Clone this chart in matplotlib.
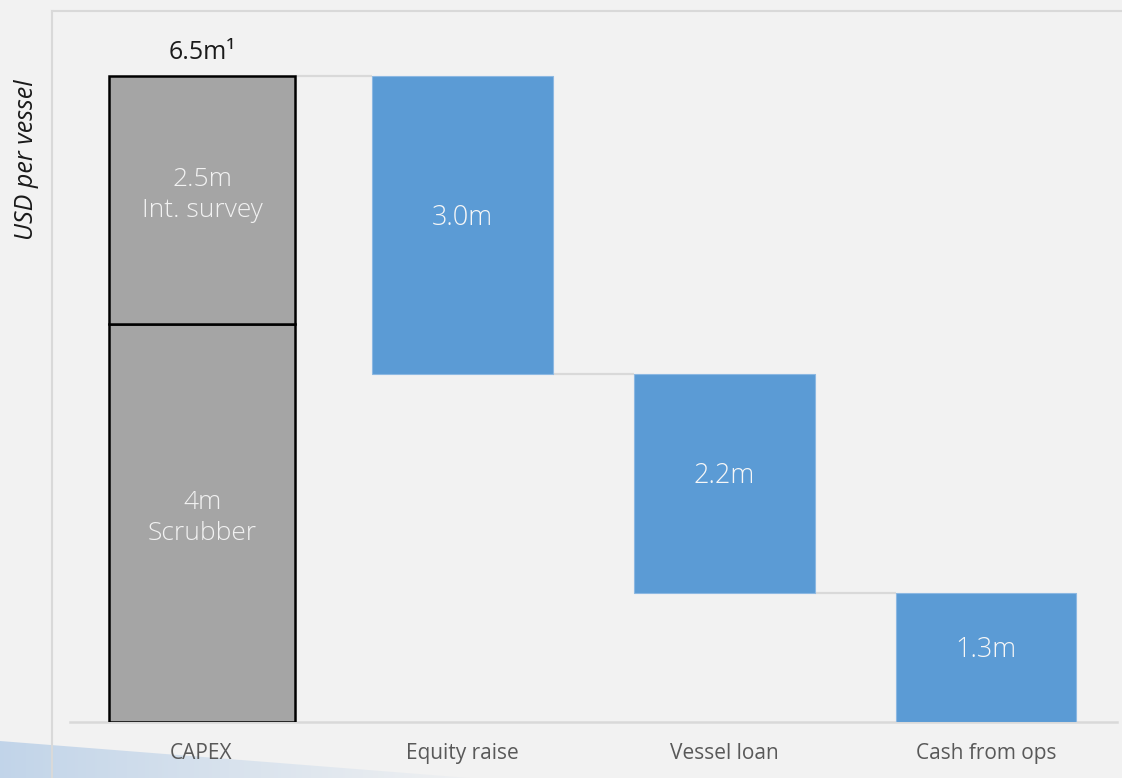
import numpy as np
import matplotlib
matplotlib.use("Agg")
import matplotlib.pyplot as plt
from matplotlib.patches import Polygon
from matplotlib.lines import Line2D

# ---- data -------------------------------------------------------------
categories = ["CAPEX", "Equity raise", "Vessel loan", "Cash from ops"]
capex_parts = [4.0, 2.5]
capex_part_labels = ["4m\nScrubber", "2.5m\nInt. survey"]
capex_total_label = "6.5m\u00b9"
funding_values = [3.0, 2.2, 1.3]
funding_labels = ["3.0m", "2.2m", "1.3m"]
y_label = "USD per vessel"

# ---- style ------------------------------------------------------------
BG = "#f2f2f2"
GREY_BAR = "#a5a5a5"
BLUE = "#5b9bd5"
LINE = "#d9d9d9"
TICK = "#595959"
FONT = ["Open Sans", "DejaVu Sans"]
plt.rcParams["font.family"] = FONT

W, H, DPI = 1122, 778, 100
fig = plt.figure(figsize=(W / DPI, H / DPI), dpi=DPI, facecolor=BG)

# background layer in pixel coordinates (decorative frame + corner wedge)
bg = fig.add_axes([0, 0, 1, 1], zorder=0)
bg.set_xlim(0, W)
bg.set_ylim(H, 0)
bg.axis("off")
bg.set_facecolor(BG)

# soft blue wedge at the lower-left corner, fading to the right
grad = np.linspace(0.9, 0.05, 256)
rgba = np.zeros((1, 256, 4))
rgba[..., 0] = 0.74
rgba[..., 1] = 0.82
rgba[..., 2] = 0.91
rgba[..., 3] = grad
wedge = Polygon([[0, 741], [470, 778], [0, 778]], closed=True,
                facecolor="none", edgecolor="none")
bg.add_patch(wedge)
im = bg.imshow(rgba, extent=[0, 470, 778, 738], aspect="auto",
               interpolation="bilinear")
im.set_clip_path(wedge)

# panel frame: left and top rules
bg.add_line(Line2D([52, 52], [11, H], color=LINE, lw=1.5))
bg.add_line(Line2D([52, W], [11, 11], color=LINE, lw=1.5))

# ---- main chart -------------------------------------------------------
ax_left, ax_right = 70, 1117
ax_bottom, ax_top = 722, 40
ax = fig.add_axes([ax_left / W, (H - ax_bottom) / H,
                   (ax_right - ax_left) / W, (ax_bottom - ax_top) / H],
                  zorder=2)
ax.patch.set_alpha(0)
px_per_unit = 99.46
ax.set_ylim(0, (ax_bottom - ax_top) / px_per_unit)
ax.set_xlim(-0.5, len(categories) - 0.5)

x = np.arange(len(categories))
bar_w = 0.69
capex_w = 0.71

# stacked CAPEX bar
bottom = 0.0
for val, lab in zip(capex_parts, capex_part_labels):
    ax.bar(x[0] + 0.005, val, bottom=bottom, width=capex_w, color=GREY_BAR,
           edgecolor="black", linewidth=1.8, zorder=3)
    ax.text(x[0] + 0.005, bottom + val / 2 + 0.05, lab, ha="center",
            va="center", color="#f2f2f2", fontsize=19, fontweight="light",
            linespacing=1.3, zorder=4)
    bottom += val
capex_total = bottom
ax.annotate(capex_total_label, xy=(x[0] + 0.005, capex_total),
            xytext=(0, 12), textcoords="offset points", ha="center",
            va="baseline", fontsize=18, color="#1a1a1a")

# funding waterfall bars
level = capex_total
prev_right = x[0] + 0.005 + capex_w / 2
for i, (val, lab) in enumerate(zip(funding_values, funding_labels), start=1):
    low = level - val
    ax.bar(x[i], val, bottom=low, width=bar_w, color=BLUE,
           edgecolor="#8cb8e2", linewidth=0.8, zorder=3)
    # connector from previous bar
    ax.plot([prev_right, x[i] - bar_w / 2], [level, level], color=LINE,
            lw=1.6, zorder=2, solid_capstyle="butt")
    ax.text(x[i], low + val / 2 + 0.07, lab, ha="center", va="center",
            color="#f7f7f7", fontsize=19.5, fontweight="light", zorder=4)
    prev_right = x[i] + bar_w / 2
    level = low

# axes styling
for side in ["top", "right", "left"]:
    ax.spines[side].set_visible(False)
ax.spines["bottom"].set_color(LINE)
ax.spines["bottom"].set_linewidth(1.8)
ax.spines["bottom"].set_zorder(2)
ax.set_yticks([])
ax.set_xticks(x)
ax.set_xticklabels(categories, fontsize=15, color=TICK)
ax.tick_params(axis="x", length=0, pad=15)

fig.text(27 / W, 1 - 160 / H, y_label, rotation=90, ha="center",
         va="center", fontsize=18, style="italic", color="#1a1a1a")

fig.savefig("out.png", dpi=DPI, facecolor=BG)
